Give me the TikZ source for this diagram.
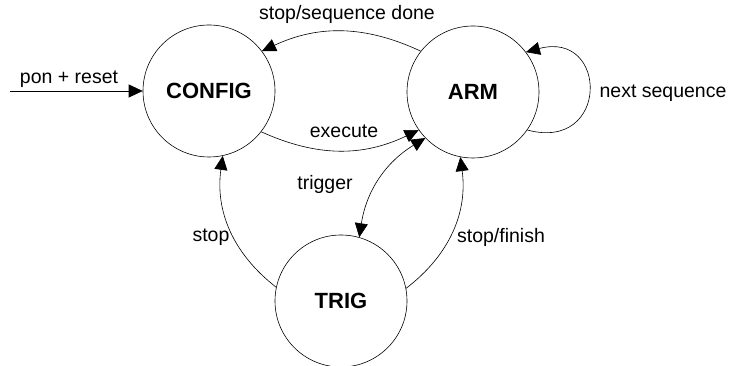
\documentclass[tikz,border=0pt]{standalone}
\usepackage{fontspec}
\setmainfont{Liberation Sans}
\usepackage{tikz}
\usetikzlibrary{arrows.meta}
\tikzset{
    state/.style={draw, circle, minimum size=132pt, inner sep=0pt, line width=0.6pt,
                  font=\fontsize{22}{26}\selectfont\bfseries},
    lbl/.style={inner sep=0pt, font=\fontsize{19.5}{22}\selectfont},
    conn/.style={->, line width=0.6pt},
    >={Triangle[length=14pt, width=13pt]},
}

\begin{document}
\begin{tikzpicture}[x=1pt, y=1pt]
        \useasboundingbox (0,0) rectangle (729,366);

        \node[state] (config) at (209,275) {CONFIG};
        \node[state] (arm) at (473,274) {ARM};
        \node[state] (trig) at (341,65) {TRIG};
        \coordinate (pon) at (10,275);

        \draw[conn] (pon) -- (config.west);
        \draw[conn] (arm.142) to[bend right=25] (config.37);
        \draw[conn] (config.-38) to[bend right=25] (arm.-145);
        \draw[conn, <->] (arm.-136) to[bend right=25] (trig.74);
        \draw[conn] (trig.168) to[bend left=30] (config.-78);
        \draw[conn] (trig.11) to[bend right=30] (arm.-101);
        \draw[conn] (arm.-35) to[out=-15, in=15, looseness=2.8] (arm.37);

        \node[lbl] (lpon) at (69,287) {pon + reset};
        \node[lbl] (ldone) at (347,352) {stop/sequence done};
        \node[lbl] (lexec) at (344,235) {execute};
        \node[lbl] (ltrig) at (325,182) {trigger};
        \node[lbl] (lstop) at (211,129) {stop};
        \node[lbl] (lfin) at (501,129) {stop/finish};
        \node[lbl] (lnext) at (663,273) {next sequence};
\end{tikzpicture}
\end{document}
